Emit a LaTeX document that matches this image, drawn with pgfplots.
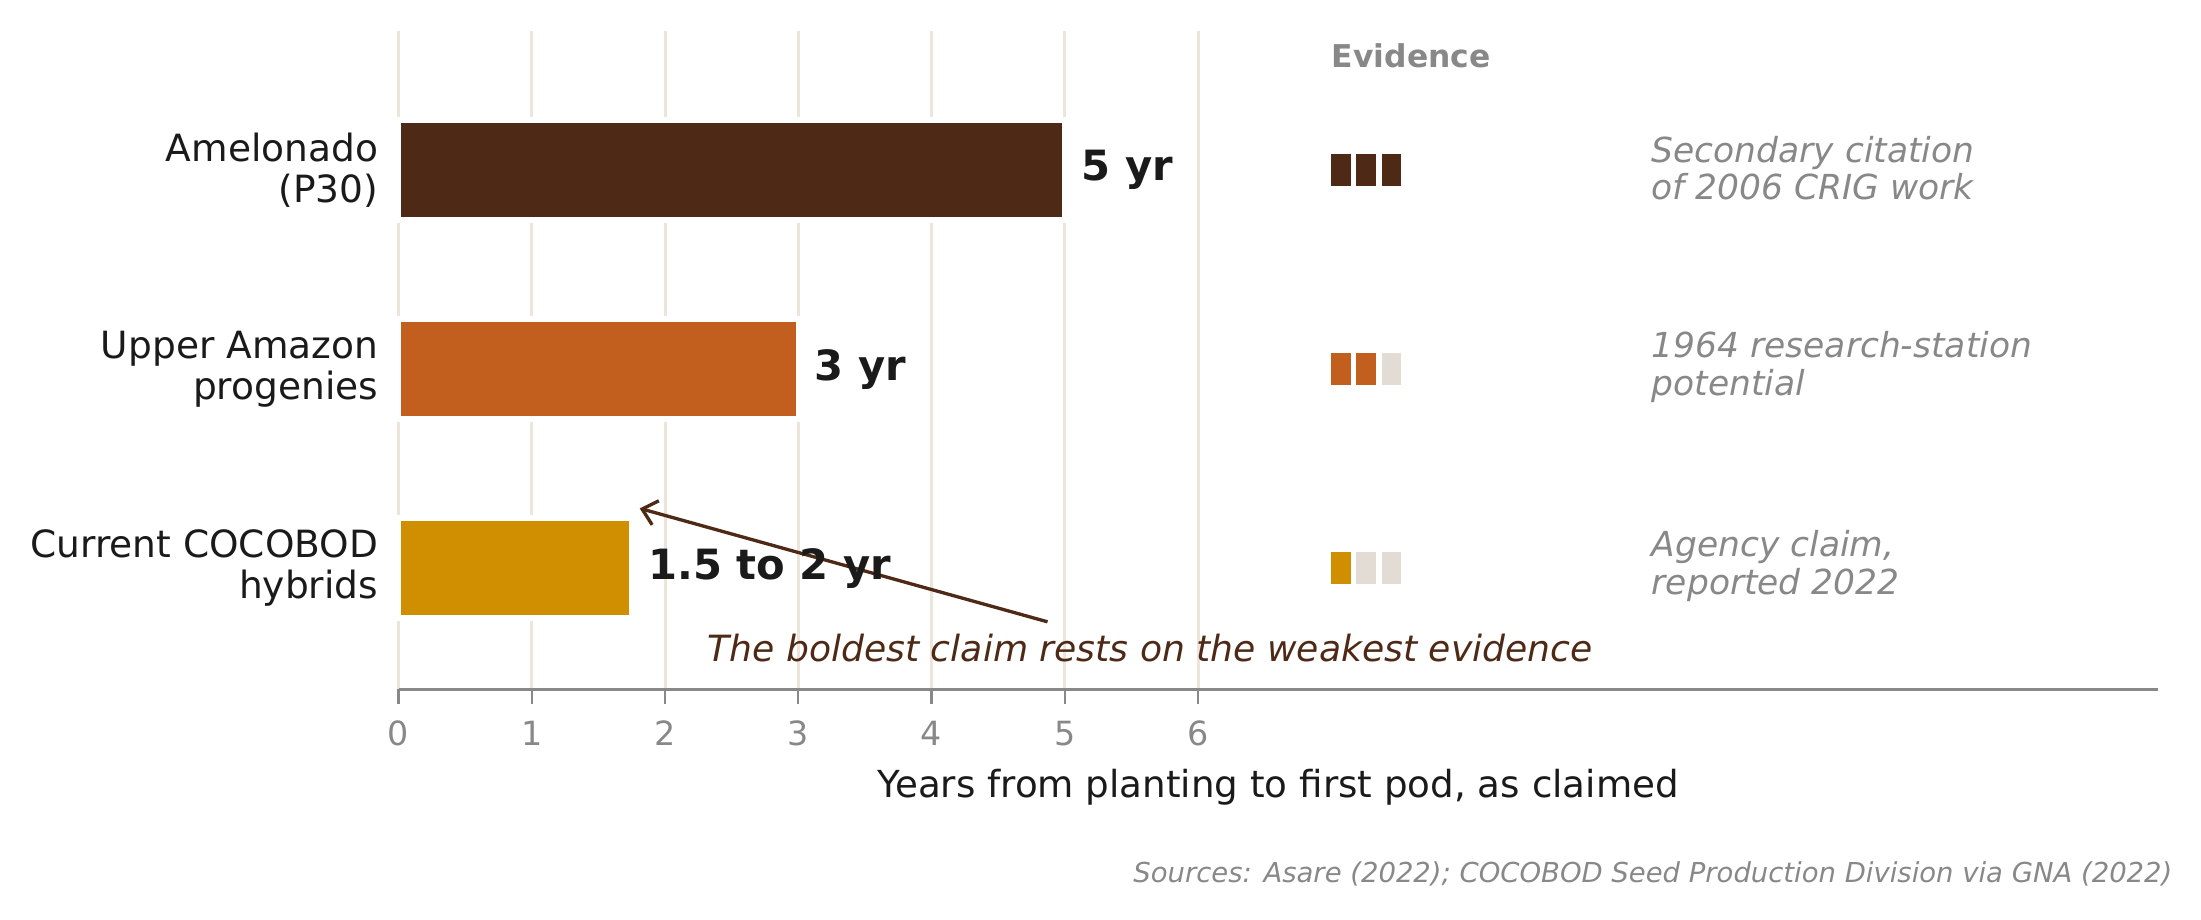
\documentclass[border=0pt]{standalone}
\usepackage{pgfplots}
\pgfplotsset{compat=1.18}
\usepackage{fontspec}
\setmainfont{DejaVu Sans}
\usetikzlibrary{arrows.meta}

\definecolor{cDark}{HTML}{4E2A16}
\definecolor{cOrange}{HTML}{C25E1E}
\definecolor{cGold}{HTML}{D08F00}
\definecolor{cLight}{HTML}{E3DCD5}
\definecolor{cGrid}{HTML}{EDE4DA}
\definecolor{cGray}{HTML}{888888}
\definecolor{cText}{HTML}{1A1A1A}

\begin{document}
\begin{tikzpicture}
\path[use as bounding box] (-143.4pt,-82.8pt) rectangle (648.6pt,248.1pt);
\begin{axis}[
  at={(0,0)}, anchor=south west,
  scale only axis, width=633pt, height=237pt,
  xmin=0, xmax=13.2, ymin=-0.61, ymax=2.70,
  clip=false,
  xbar, bar width=36pt, bar shift=0pt,
  axis x line*=bottom, axis y line*=left,
  y axis line style={draw=none},
  x axis line style={draw=cGray, line width=1pt, -},
  xtick={0,1,2,3,4,5,6},
  ytick={0,1,2},
  yticklabels={{Current COCOBOD\\hybrids},{Upper Amazon\\progenies},{Amelonado\\(P30)}},
  yticklabel style={align=right, text=cText, font=\fontsize{13.5}{15}\selectfont, xshift=1.5pt},
  ytick style={draw=none},
  xtick style={draw=cGray, line width=0.8pt},
  tick align=outside,
  major tick length=5.3pt,
  xticklabel style={text=cGray, font=\fontsize{12}{14}\selectfont, anchor=base, yshift=-14.7pt},
  /pgf/number format/assume math mode=true,
  xmajorgrids,
  grid style={draw=cGrid, line width=1.1pt},
  xlabel={Years from planting to first pod, as claimed},
  x label style={at={(axis description cs:0.5,0)}, anchor=center, yshift=-35pt, text=cText, font=\fontsize{13.4}{15}\selectfont},
  point meta=explicit symbolic,
  nodes near coords style={anchor=west, inner sep=0pt, xshift=5pt, text=cText, font=\fontsize{15}{18}\selectfont\bfseries},
]
% bars
\addplot[fill=cDark, draw=white, line width=2pt, nodes near coords] coordinates {(5,2) [5 yr]};
\addplot[fill=cOrange, draw=white, line width=2pt, nodes near coords] coordinates {(3,1) [3 yr]};
\addplot[fill=cGold, draw=white, line width=2pt, nodes near coords] coordinates {(1.75,0) [1.5 to 2 yr]};

% evidence blocks
\addplot[color=cDark, only marks, mark=square*, mark size=5.55pt, mark options={xscale=0.6, draw=cDark, fill=cDark}] coordinates {(7.07,2) (7.26,2) (7.45,2)};
\addplot[color=cOrange, only marks, mark=square*, mark size=5.55pt, mark options={xscale=0.6, draw=cOrange, fill=cOrange}] coordinates {(7.07,1) (7.26,1)};
\addplot[color=cGold, only marks, mark=square*, mark size=5.55pt, mark options={xscale=0.6, draw=cGold, fill=cGold}] coordinates {(7.07,0)};
\addplot[color=cLight, only marks, mark=square*, mark size=5.55pt, mark options={xscale=0.6, draw=cLight, fill=cLight}] coordinates {(7.45,1) (7.26,0) (7.45,0)};

\node[anchor=west, inner sep=0pt, text=cGray, font=\fontsize{11.3}{13}\selectfont\bfseries] at (axis cs:7.0,2.575) {Evidence};

\node[anchor=west, align=left, inner sep=0pt, text=cGray, font=\fontsize{12.4}{13.6}\selectfont\itshape] at (axis cs:9.4,2.01) {Secondary citation\\of 2006 CRIG work};
\node[anchor=west, align=left, inner sep=0pt, text=cGray, font=\fontsize{12.4}{13.6}\selectfont\itshape] at (axis cs:9.4,1.01) {1964 research-station\\potential};
\node[anchor=west, align=left, inner sep=0pt, text=cGray, font=\fontsize{12.4}{13.6}\selectfont\itshape] at (axis cs:9.4,0.01) {Agency claim,\\reported 2022};

% annotation
\draw[cDark, line width=1.2pt, -{Straight Barb[length=5pt, width=9pt]}] (axis cs:4.87,-0.27) -- (axis cs:1.81,0.30);
\node[anchor=center, inner sep=0pt, text=cDark, font=\fontsize{13}{15}\selectfont\itshape] at (axis cs:5.64,-0.40) {The boldest claim rests on the weakest evidence};

\node[anchor=east, inner sep=0pt, text=cGray, font=\fontsize{9.88}{12}\selectfont\itshape] at ([xshift=5.5pt, yshift=-66.2pt]rel axis cs:1,0) {Sources: Asare (2022); COCOBOD Seed Production Division via GNA (2022)};
\end{axis}
\end{tikzpicture}
\end{document}
